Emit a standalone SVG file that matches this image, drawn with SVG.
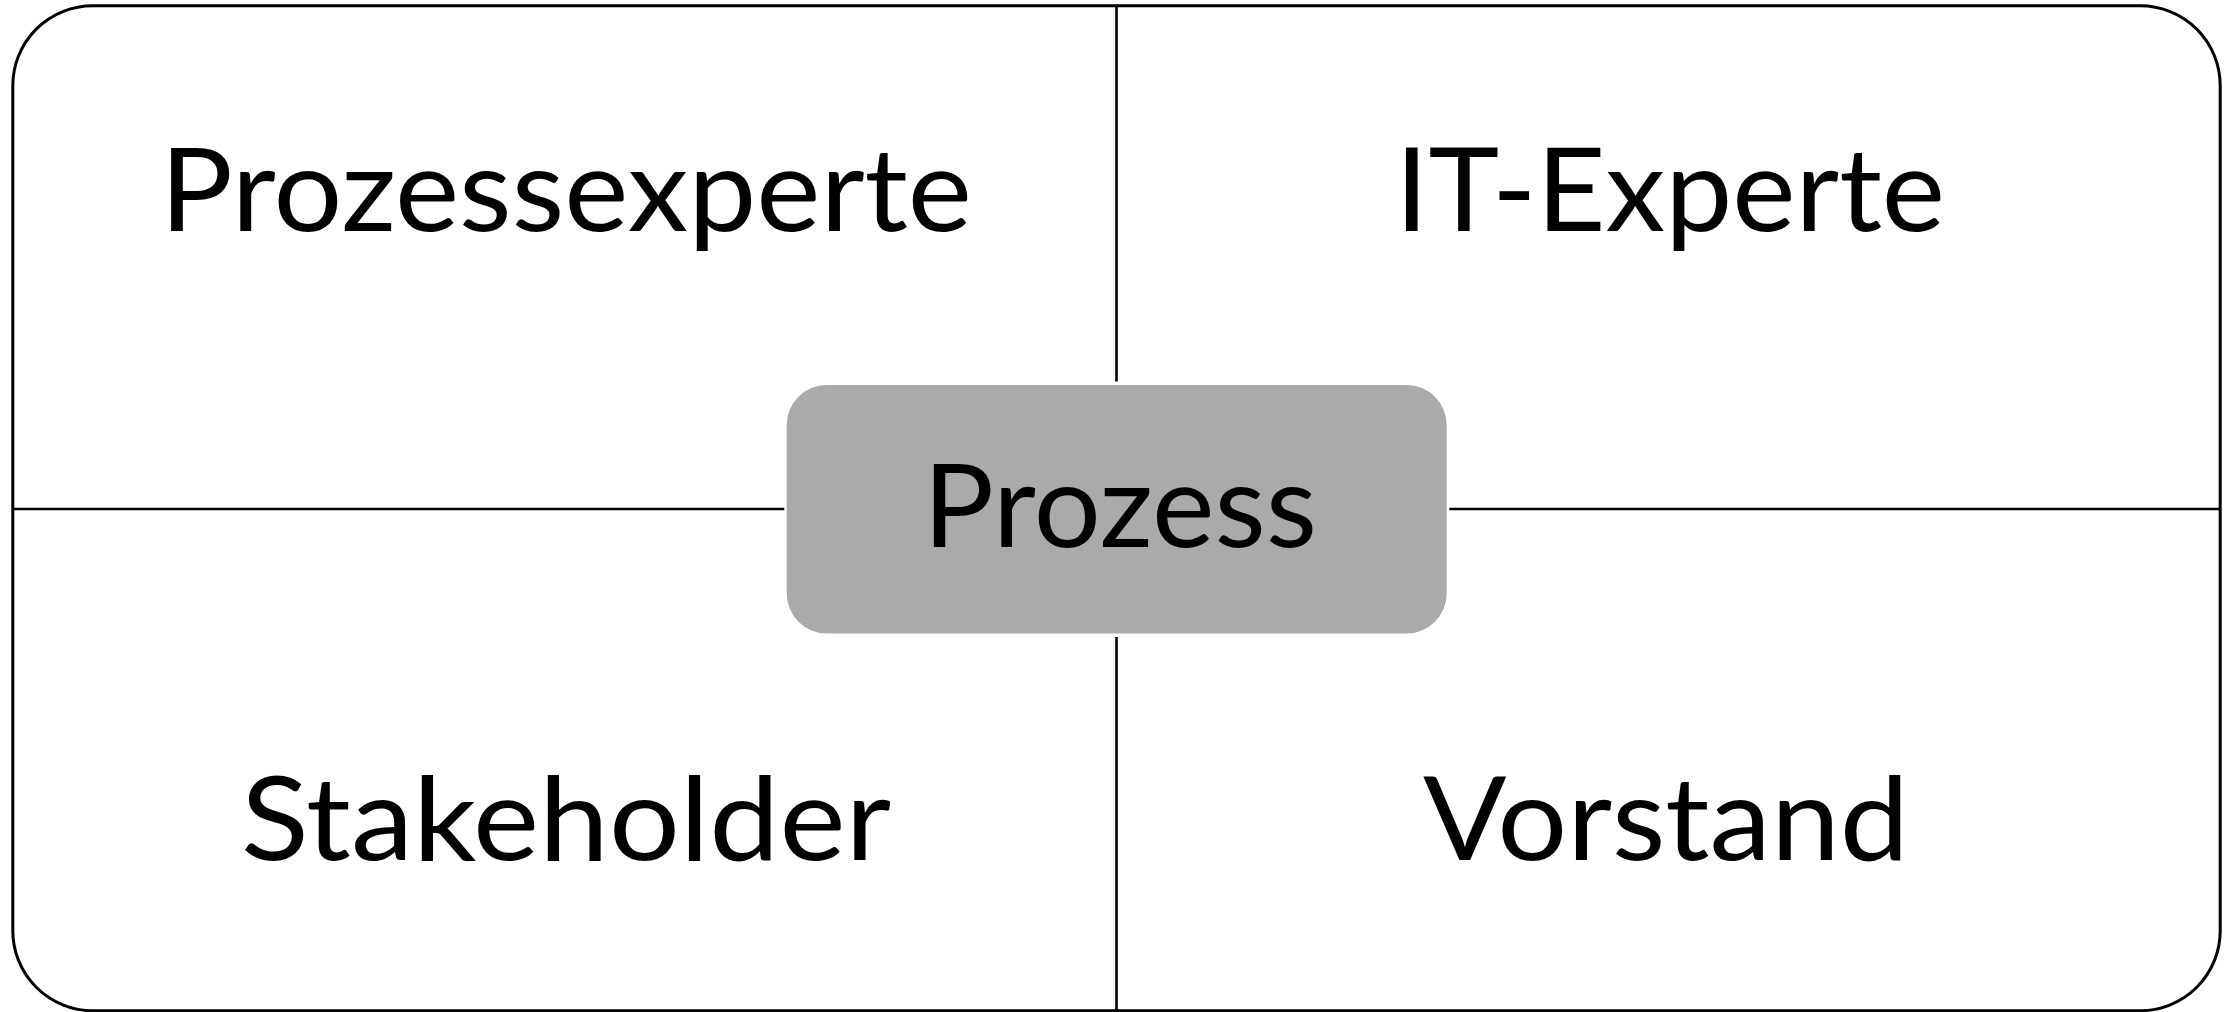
<svg xmlns="http://www.w3.org/2000/svg" width="2233" height="1012" viewBox="0 0 2233 1012">
<style>
.frame{fill:#ffffff;stroke:#000000;stroke-width:3}
.line{stroke:#000000;stroke-width:2.6;fill:none}
.center{fill:#aaaaaa;stroke:none}
.lbl{font-family:Lato,"Open Sans","Liberation Sans",sans-serif;font-size:117px;fill:#000000;text-anchor:middle}
</style>
<rect width="2233" height="1012" fill="#ffffff"/>
<g id="frame">
<rect class="frame" x="12.8" y="5.7" width="2207.4" height="1005" rx="80" ry="80"/>
</g>
<g id="connectors">
<line class="line" x1="1116.5" y1="5.7" x2="1116.5" y2="381.5"/>
<line class="line" x1="1116.5" y1="637" x2="1116.5" y2="1011"/>
<line class="line" x1="12.8" y1="509" x2="784.3" y2="509"/>
<line class="line" x1="1449.3" y1="509" x2="2220.2" y2="509"/>
</g>
<g id="node-prozessexperte">
<text class="lbl" x="566" y="231" textLength="812" lengthAdjust="spacingAndGlyphs">Prozessexperte</text>
</g>
<g id="node-it-experte">
<text class="lbl" x="1670" y="231" textLength="550" lengthAdjust="spacingAndGlyphs">IT-Experte</text>
</g>
<g id="node-stakeholder">
<text class="lbl" x="566" y="860" textLength="650" lengthAdjust="spacingAndGlyphs">Stakeholder</text>
</g>
<g id="node-vorstand">
<text class="lbl" x="1666" y="860" textLength="486" lengthAdjust="spacingAndGlyphs">Vorstand</text>
</g>
<g id="node-prozess">
<rect class="center" x="786.7" y="385" width="660" height="248.5" rx="40" ry="40"/>
<text class="lbl" x="1120" y="546.5" textLength="394" lengthAdjust="spacingAndGlyphs">Prozess</text>
</g>
</svg>
